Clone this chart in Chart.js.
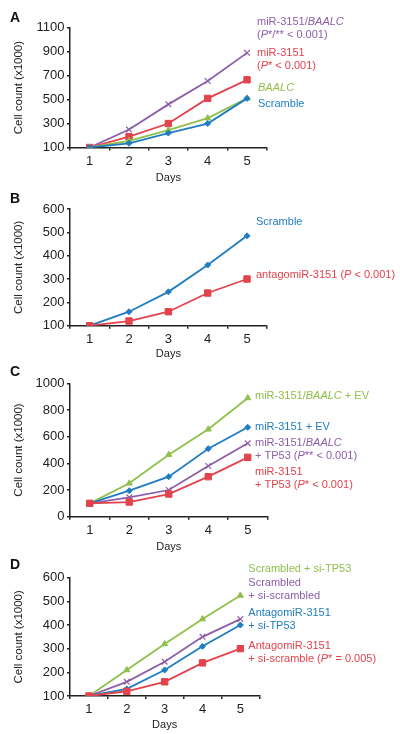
<!DOCTYPE html>
<html>
<head>
<meta charset="utf-8">
<script src="https://cdn.jsdelivr.net/npm/chart.js@4.4.1/dist/chart.umd.min.js"></script>
<style>
  html, body { margin: 0; padding: 0; background: #fff; }
  #wrap { position: relative; width: 400px; height: 734px; }
  #wrap canvas { position: absolute; left: 0; top: 0; }
</style>
</head>
<body>
<div id="wrap">
  <canvas id="chartA" width="400" height="734"></canvas>
  <canvas id="chartB" width="400" height="734"></canvas>
  <canvas id="chartC" width="400" height="734"></canvas>
  <canvas id="chartD" width="400" height="734"></canvas>
</div>
<script>
"use strict";

// data
const days = ["1", "2", "3", "4", "5"];

// panel A
const aMirBaalc = [100, 250, 460, 655, 890];
const aMir = [100, 190, 300, 510, 665];
const aBaalc = [100, 155, 245, 345, 510];
const aScramble = [100, 135, 220, 300, 510];
const aTicks = [100, 300, 500, 700, 900, 1100];

// panel B
const bScramble = [100, 160, 245, 360, 485];
const bAntago = [100, 120, 160, 240, 300];
const bTicks = [100, 200, 300, 400, 500, 600];

// panel C
const cMirBaalcEv = [100, 250, 465, 655, 890];
const cMirEv = [100, 195, 300, 510, 670];
const cMirBaalcTp53 = [100, 145, 200, 380, 550];
const cMirTp53 = [100, 110, 170, 300, 445];
const cTicks = [0, 200, 400, 600, 800, 1000];

// panel D
const dScrSiTp53 = [100, 210, 320, 425, 525];
const dScrSiScr = [100, 160, 245, 350, 425];
const dAntSiTp53 = [100, 130, 210, 310, 400];
const dAntSiScr = [100, 120, 160, 240, 300];
const dTicks = [100, 200, 300, 400, 500, 600];

// series labels (_text_ = italic)
const aLabels = [["miR-3151/_BAALC_", "(_P_*/** < 0.001)"], ["miR-3151", "(_P_* < 0.001)"], ["_BAALC_"], ["Scramble"]];
const bLabels = [["Scramble"], ["antagomiR-3151 (_P_ < 0.001)"]];
const cLabels = [["miR-3151/_BAALC_ + EV"], ["miR-3151 + EV"], ["miR-3151/_BAALC_", "+ TP53 (_P_** < 0.001)"], ["miR-3151", "+ TP53 (_P_* < 0.001)"]];
const dLabels = [["Scrambled + si-TP53"], ["Scrambled", "+ si-scrambled"], ["AntagomiR-3151", "+ si-TP53"], ["AntagomiR-3151", "+ si-scramble (_P_* = 0.005)"]];

// colours
const purple = "#8d5ea9";
const red = "#e2434c";
const green = "#8fc04c";
const blue = "#1f7dc1";

const FONT = "'Liberation Sans', Arial, sans-serif";
Chart.defaults.font.family = FONT;

function series(data, color, style, radius) {
  return {
    data: data,
    borderColor: color,
    backgroundColor: color,
    borderWidth: 1.8,
    pointStyle: style,
    pointRadius: radius,
    pointBorderWidth: style === "crossRot" ? 1.2 : 1,
    tension: 0
  };
}

function drawRich(ctx, text, x, y, color) {
  const parts = text.split("_");
  let cx = x;
  parts.forEach((p, i) => {
    ctx.font = (i % 2 ? "italic " : "") + "11px " + FONT;
    ctx.fillStyle = color;
    ctx.fillText(p, cx, y);
    cx += ctx.measureText(p).width;
  });
}

// labels + panel letter
const notesPlugin = {
  id: "notes",
  afterDraw(chart) {
    const g = chart.options.plugins.notes;
    const ctx = chart.ctx;
    ctx.save();
    ctx.textBaseline = "middle";
    ctx.textAlign = "left";
    ctx.font = "bold 14px " + FONT;
    ctx.fillStyle = "#111";
    ctx.fillText(g.letter, 10, g.letterY);
    g.labels.forEach((lines, i) => {
      const pos = g.pos[i];
      lines.forEach((line, j) => {
        drawRich(ctx, line, pos[0], pos[1] + j * 12.8, g.colors[i]);
      });
    });
    ctx.restore();
  }
};

function makeChart(id, datasets, ticks, geo, labels, colors) {
  const yMin = ticks[0];
  const yMax = ticks[ticks.length - 1];
  const xH = geo.daysY - geo.bottom + 6.6;
  return new Chart(document.getElementById(id), {
    type: "line",
    data: { labels: days, datasets: datasets },
    plugins: [notesPlugin],
    options: {
      responsive: false,
      animation: false,
      layout: {
        padding: { top: geo.top, left: 0, right: 400 - geo.right, bottom: 734 - geo.bottom - xH }
      },
      plugins: {
        legend: { display: false },
        tooltip: { enabled: false },
        notes: { letter: geo.letter, letterY: geo.letterY, labels: labels, pos: geo.pos, colors: colors }
      },
      scales: {
        x: {
          offset: true,
          grid: { drawOnChartArea: false, drawTicks: true, tickLength: 3, offset: true, color: "#222", lineWidth: 1.5 },
          border: { color: "#222", width: 1.5 },
          ticks: { color: "#222", padding: 3, font: { size: 13 } },
          title: { display: true, text: "Days", color: "#222", font: { size: 11 }, padding: { top: 0, bottom: 0 } },
          afterFit(scale) { scale.height = xH; }
        },
        y: {
          min: yMin,
          max: yMax,
          afterBuildTicks(scale) { scale.ticks = ticks.map(v => ({ value: v })); },
          grid: { drawOnChartArea: false, drawTicks: true, tickLength: 3, color: "#222", lineWidth: 1.5 },
          border: { color: "#222", width: 1.5 },
          ticks: { color: "#222", padding: 2.5, font: { size: 13 }, callback: (v) => String(v) },
          title: { display: true, text: "Cell count (x1000)", color: "#222", font: { size: 11.5 }, padding: { top: 11.5, bottom: 0 } },
          afterFit(scale) { scale.width = 70; }
        }
      }
    }
  });
}

makeChart("chartA", [
  series(aScramble, blue, "rectRot", 3),
  series(aBaalc, green, "triangle", 3.5),
  series(aMir, red, "rect", 4.5),
  series(aMirBaalc, purple, "crossRot", 4)
], aTicks, {
  letter: "A", letterY: 18.3, top: 27.7, bottom: 147.5, right: 266.7, daysY: 178.3,
  pos: [[257, 22], [257, 52.7], [258, 88.3], [258, 104.3]]
}, aLabels, [purple, red, green, blue]);

makeChart("chartB", [
  series(bAntago, red, "rect", 4.5),
  series(bScramble, blue, "rectRot", 3)
], bTicks, {
  letter: "B", letterY: 199, top: 209, bottom: 325.7, right: 266.7, daysY: 354.3,
  pos: [[256, 221.7], [256, 275]]
}, bLabels, [blue, red]);

makeChart("chartC", [
  series(cMirTp53, red, "rect", 4.5),
  series(cMirBaalcTp53, purple, "crossRot", 4),
  series(cMirEv, blue, "rectRot", 3),
  series(cMirBaalcEv, green, "triangle", 3.5)
], cTicks, {
  letter: "C", letterY: 371.7, top: 383.3, bottom: 516.7, right: 267.5, daysY: 546.7,
  pos: [[255, 396], [255, 426.7], [255, 442.7], [255, 471.7]]
}, cLabels, [green, blue, purple, red]);

makeChart("chartD", [
  series(dAntSiScr, red, "rect", 4.5),
  series(dAntSiTp53, blue, "rectRot", 3),
  series(dScrSiScr, purple, "crossRot", 4),
  series(dScrSiTp53, green, "triangle", 3.5)
], dTicks, {
  letter: "D", letterY: 565, top: 577.7, bottom: 696, right: 259.3, daysY: 725,
  pos: [[248.3, 569], [248.3, 583.3], [248.3, 612.7], [248.3, 646]]
}, dLabels, [green, purple, blue, red]);
</script>
</body>
</html>
